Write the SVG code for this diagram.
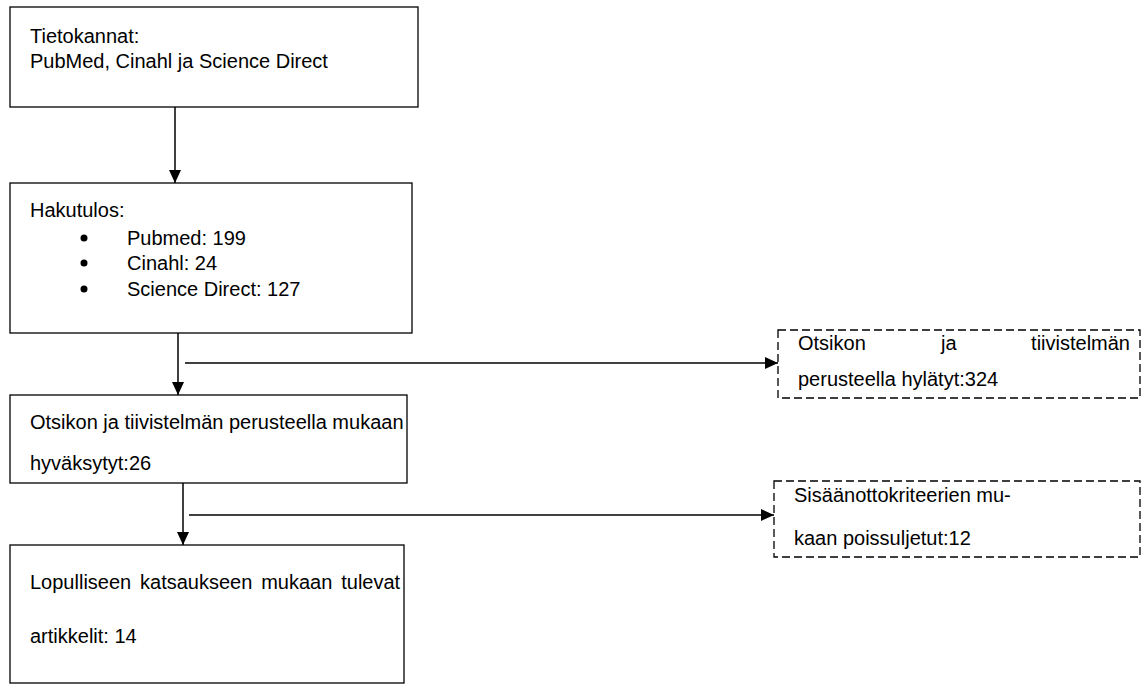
<svg xmlns="http://www.w3.org/2000/svg" width="1141" height="684" viewBox="0 0 1141 684">
<defs>
<style>
.box{fill:#fff;stroke:#000;stroke-width:1.3}
.dbox{fill:#fff;stroke:#000;stroke-width:1.3;stroke-dasharray:8 4}
.t{font-family:"Liberation Sans",Arial,sans-serif;font-size:20px;fill:#000}
.c{stroke:#000;stroke-width:1.5;fill:none}
</style>
<marker id="ah" markerWidth="13" markerHeight="12" refX="13" refY="6" orient="auto" markerUnits="userSpaceOnUse" viewBox="0 0 13 12">
<path d="M0,0 L13,6 L0,12 z" fill="#000"/>
</marker>
</defs>
<rect width="1141" height="684" fill="#fff"/>
<g id="connectors">
<line class="c" x1="175" y1="107" x2="175" y2="183" marker-end="url(#ah)"/>
<line class="c" x1="178" y1="333" x2="178" y2="395" marker-end="url(#ah)"/>
<line class="c" x1="185" y1="363" x2="778" y2="363" marker-end="url(#ah)"/>
<line class="c" x1="183" y1="483" x2="183" y2="545" marker-end="url(#ah)"/>
<line class="c" x1="189" y1="515" x2="774" y2="515" marker-end="url(#ah)"/>
</g>
<g id="n1">
<rect class="box" x="10" y="7" width="408" height="100"/>
<text class="t" x="30" y="43">Tietokannat:</text>
<text class="t" x="30" y="68">PubMed, Cinahl ja Science Direct</text>
</g>
<g id="n2">
<rect class="box" x="10" y="183" width="402" height="150"/>
<text class="t" x="30" y="217">Hakutulos:</text>
<circle cx="84" cy="238" r="3.5"/>
<circle cx="84" cy="263" r="3.5"/>
<circle cx="84" cy="289" r="3.5"/>
<text class="t" x="127" y="245">Pubmed: 199</text>
<text class="t" x="127" y="270">Cinahl: 24</text>
<text class="t" x="127" y="296">Science Direct: 127</text>
</g>
<g id="n3">
<rect class="box" x="10" y="395" width="397" height="88"/>
<text class="t" x="30" y="429">Otsikon ja tiivistelmän perusteella mukaan</text>
<text class="t" x="30" y="470">hyväksytyt:26</text>
</g>
<g id="n4">
<rect class="box" x="10" y="545" width="394" height="138"/>
<text class="t" x="30" y="589" word-spacing="3.3">Lopulliseen katsaukseen mukaan tulevat</text>
<text class="t" x="30" y="643">artikkelit: 14</text>
</g>
<g id="n5">
<rect class="dbox" x="778" y="330" width="362" height="68"/>
<text class="t" y="350"><tspan x="798">Otsikon</tspan><tspan x="941">ja</tspan><tspan x="1130" text-anchor="end">tiivistelmän</tspan></text>
<text class="t" x="798" y="386">perusteella hylätyt:324</text>
</g>
<g id="n6">
<rect class="dbox" x="774" y="481" width="366" height="76"/>
<text class="t" x="794" y="502">Sisäänottokriteerien mu-</text>
<text class="t" x="794" y="545">kaan poissuljetut:12</text>
</g>
</svg>
